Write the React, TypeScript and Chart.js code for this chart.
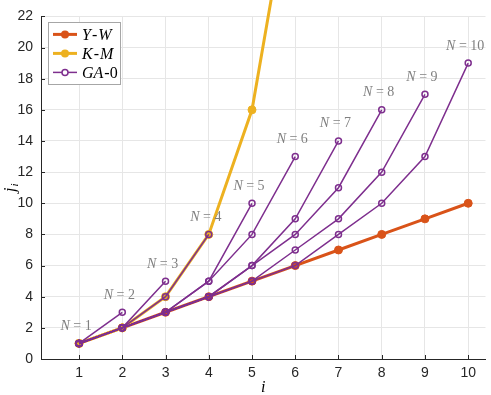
import React, { useEffect, useRef } from 'react';
import { Chart, registerables } from 'chart.js';

Chart.register(...registerables);

// ---- data ----
const I_VALUES = [1, 2, 3, 4, 5, 6, 7, 8, 9, 10];
const YW_VALUES = [1, 2, 3, 4, 5, 6, 7, 8, 9, 10];
const KM_VALUES = [1, 2, 4, 8, 16, 32, 64, 128, 256, 512];
const GA0_N1 = [1];
const GA0_N2 = [1, 3];
const GA0_N3 = [1, 2, 5];
const GA0_N4 = [1, 2, 4, 8];
const GA0_N5 = [1, 2, 3, 5, 10];
const GA0_N6 = [1, 2, 3, 5, 8, 13];
const GA0_N7 = [1, 2, 3, 4, 6, 9, 14];
const GA0_N8 = [1, 2, 3, 4, 6, 8, 11, 16];
const GA0_N9 = [1, 2, 3, 4, 5, 7, 9, 12, 17];
const GA0_N10 = [1, 2, 3, 4, 5, 6, 8, 10, 13, 19];
const GA0_SERIES = [GA0_N1, GA0_N2, GA0_N3, GA0_N4, GA0_N5, GA0_N6, GA0_N7, GA0_N8, GA0_N9, GA0_N10];
const N_LABELS = ['1', '2', '3', '4', '5', '6', '7', '8', '9', '10'];
const X_TICKS = [1, 2, 3, 4, 5, 6, 7, 8, 9, 10];
const Y_TICKS = [0, 2, 4, 6, 8, 10, 12, 14, 16, 18, 20, 22];
const X_MIN = 0.12;
const X_MAX = 10.4;
const Y_MIN = 0;
const Y_MAX = 22;
const LEGEND_LABELS = ['Y-W', 'K-M', 'GA-0'];
const X_TITLE = 'i';
const Y_TITLE_MAIN = 'j';
const Y_TITLE_SUB = 'i';

// ---- style ----
const C_YW = '#D95319';
const C_KM = '#EDB120';
const C_GA = '#7E2F8E';
const AXIS_COLOR = '#262626';
const GRID_COLOR = '#e6e6e6';
const SERIF = '"Liberation Serif", "DejaVu Serif", serif';
const SANS = '"Liberation Sans", Arial, sans-serif';

type Run = { t: string; italic: boolean };

function mathRuns(text: string): Run[] {
  const runs: Run[] = [];
  for (const ch of text) {
    const it = /[A-Za-z]/.test(ch);
    const last = runs[runs.length - 1];
    if (last && last.italic === it) last.t += ch;
    else runs.push({ t: ch, italic: it });
  }
  return runs;
}

function runsWidth(ctx: CanvasRenderingContext2D, runs: Run[], size: number, gap: number) {
  let w = 0;
  runs.forEach((r, k) => {
    ctx.font = `${r.italic ? 'italic ' : ''}${size}px ${SERIF}`;
    w += ctx.measureText(r.t).width;
    if (k < runs.length - 1) w += gap;
  });
  return w;
}

function drawRuns(ctx: CanvasRenderingContext2D, runs: Run[], x: number, y: number, size: number, color: string, gap: number) {
  ctx.fillStyle = color;
  ctx.textBaseline = 'alphabetic';
  ctx.textAlign = 'left';
  let cx = x;
  runs.forEach((r) => {
    ctx.font = `${r.italic ? 'italic ' : ''}${size}px ${SERIF}`;
    ctx.fillText(r.t, cx, y);
    cx += ctx.measureText(r.t).width + gap;
  });
}

const decorPlugin = {
  id: 'decor',
  afterDatasetsDraw(chart: any) {
    const { ctx, chartArea, scales } = chart;
    const xs = scales.x;
    const ys = scales.y;
    ctx.save();

    // inward tick marks
    ctx.strokeStyle = AXIS_COLOR;
    ctx.lineWidth = 1;
    X_TICKS.forEach((v) => {
      const px = Math.round(xs.getPixelForValue(v)) + 0.5;
      ctx.beginPath();
      ctx.moveTo(px, chartArea.bottom);
      ctx.lineTo(px, chartArea.bottom - 4);
      ctx.stroke();
    });
    Y_TICKS.forEach((v) => {
      const py = Math.round(ys.getPixelForValue(v)) + 0.5;
      ctx.beginPath();
      ctx.moveTo(chartArea.left, py);
      ctx.lineTo(chartArea.left + 4, py);
      ctx.stroke();
    });

    // N = k annotations
    GA0_SERIES.forEach((s, k) => {
      const n = s.length;
      const px = xs.getPixelForValue(I_VALUES[n - 1]) - 3;
      const py = ys.getPixelForValue(s[n - 1]) - 13.5;
      const runs: Run[] = [
        { t: 'N', italic: true },
        { t: ' = ' + N_LABELS[k], italic: false },
      ];
      const w = runsWidth(ctx, runs, 14, 0);
      drawRuns(ctx, runs, px - w / 2, py, 14, '#808080', 0);
    });

    // legend
    const bx = chartArea.left + 7;
    const by = chartArea.top + 6;
    const bw = 72;
    const bh = 62;
    ctx.fillStyle = '#ffffff';
    ctx.fillRect(bx, by, bw, bh);
    ctx.strokeStyle = '#a6a6a6';
    ctx.lineWidth = 1;
    ctx.strokeRect(Math.round(bx) + 0.5, Math.round(by) + 0.5, bw, bh);
    const legendStyles = [
      { color: C_YW, lw: 3, r: 4, fill: true },
      { color: C_KM, lw: 3, r: 4, fill: true },
      { color: C_GA, lw: 1.5, r: 3, fill: false },
    ];
    LEGEND_LABELS.forEach((label, k) => {
      const st = legendStyles[k];
      const cy = by + 12 + k * 19;
      ctx.strokeStyle = st.color;
      ctx.lineWidth = st.lw;
      ctx.beginPath();
      ctx.moveTo(bx + 5, cy);
      ctx.lineTo(bx + 29, cy);
      ctx.stroke();
      ctx.beginPath();
      ctx.arc(bx + 17, cy, st.r, 0, Math.PI * 2);
      if (st.fill) {
        ctx.fillStyle = st.color;
        ctx.fill();
      } else {
        ctx.fillStyle = '#ffffff';
        ctx.fill();
        ctx.lineWidth = 1.5;
        ctx.stroke();
      }
      drawRuns(ctx, mathRuns(label), bx + 34, cy + 5.5, 16, '#000000', 1);
    });

    // axis titles
    ctx.fillStyle = '#000000';
    ctx.textBaseline = 'alphabetic';
    ctx.textAlign = 'center';
    ctx.font = `italic 16px ${SERIF}`;
    ctx.fillText(X_TITLE, (chartArea.left + chartArea.right) / 2, 392);

    ctx.translate(15, (chartArea.top + chartArea.bottom) / 2);
    ctx.rotate(-Math.PI / 2);
    ctx.font = `italic 16px ${SERIF}`;
    const wj = ctx.measureText(Y_TITLE_MAIN).width;
    ctx.font = `italic 11px ${SERIF}`;
    const wi = ctx.measureText(Y_TITLE_SUB).width;
    const total = wj + wi + 1;
    ctx.textAlign = 'left';
    ctx.font = `italic 16px ${SERIF}`;
    ctx.fillText(Y_TITLE_MAIN, -total / 2, 0);
    ctx.font = `italic 11px ${SERIF}`;
    ctx.fillText(Y_TITLE_SUB, -total / 2 + wj + 1, 3);

    ctx.restore();
  },
};

export default function App() {
  const ref = useRef<HTMLCanvasElement>(null);
  useEffect(() => {
    const canvas = ref.current;
    if (!canvas) return;
    const toPts = (vals: number[]) => vals.map((v, k) => ({ x: I_VALUES[k], y: v }));
    const datasets: any[] = [
      {
        label: 'Y-W',
        data: toPts(YW_VALUES),
        borderColor: C_YW,
        backgroundColor: C_YW,
        borderWidth: 3,
        pointRadius: 4,
        pointBackgroundColor: C_YW,
        pointBorderColor: C_YW,
        pointBorderWidth: 1,
        order: 3,
      },
      {
        label: 'K-M',
        data: toPts(KM_VALUES),
        borderColor: C_KM,
        backgroundColor: C_KM,
        borderWidth: 3,
        pointRadius: 4,
        pointBackgroundColor: C_KM,
        pointBorderColor: C_KM,
        pointBorderWidth: 1,
        clip: false,
        order: 2,
      },
      ...GA0_SERIES.map((s) => ({
        label: 'GA-0',
        data: toPts(s),
        borderColor: C_GA,
        backgroundColor: C_GA,
        borderWidth: 1.5,
        pointRadius: 3,
        pointBorderWidth: 1.5,
        pointBackgroundColor: 'rgba(255,255,255,0)',
        pointBorderColor: C_GA,
        order: 1,
      })),
    ];
    const chart = new Chart(canvas, {
      type: 'line',
      data: { datasets },
      options: {
        animation: false,
        responsive: false,
        devicePixelRatio: 1,
        layout: { padding: { top: 6, right: 2, left: 0, bottom: 0 } },
        plugins: { legend: { display: false }, tooltip: { enabled: false } },
        elements: { line: { tension: 0 } },
        scales: {
          x: {
            type: 'linear',
            min: X_MIN,
            max: X_MAX,
            afterBuildTicks: (s: any) => {
              s.ticks = X_TICKS.map((v) => ({ value: v }));
            },
            afterFit: (s: any) => {
              s.height = 36;
            },
            grid: { color: GRID_COLOR, drawTicks: false, lineWidth: 1 },
            border: { color: AXIS_COLOR, width: 1 },
            ticks: {
              padding: 6,
              autoSkip: false,
              maxRotation: 0,
              color: AXIS_COLOR,
              font: { family: SANS, size: 14 },
            },
          },
          y: {
            type: 'linear',
            min: Y_MIN,
            max: Y_MAX,
            afterBuildTicks: (s: any) => {
              s.ticks = Y_TICKS.map((v) => ({ value: v }));
            },
            afterFit: (s: any) => {
              s.width = 41;
            },
            grid: { color: GRID_COLOR, drawTicks: false, lineWidth: 1 },
            border: { color: AXIS_COLOR, width: 1 },
            ticks: {
              padding: 8,
              autoSkip: false,
              color: AXIS_COLOR,
              font: { family: SANS, size: 14 },
            },
          },
        },
      } as any,
      plugins: [decorPlugin],
    });
    return () => chart.destroy();
  }, []);

  return (
    <div style={{ position: 'fixed', left: 0, top: 0, width: 491, height: 395, background: '#ffffff' }}>
      <canvas ref={ref} width={491} height={395} style={{ width: 491, height: 395, display: 'block' }} />
    </div>
  );
}
